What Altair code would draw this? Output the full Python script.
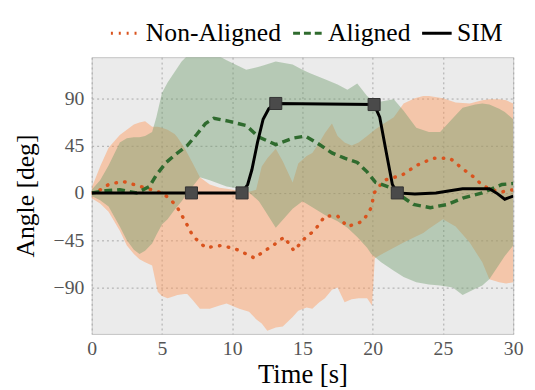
import altair as alt
import pandas as pd

# ---------------- data ----------------
series_names = ["Non-Aligned", "Aligned", "SIM"]
x_ticks = [0, 5, 10, 15, 20, 25, 30]
y_ticks = [90, 45, 0, -45, -90]

# Non-Aligned spread band
na_band_t = [0, 0.6, 1.2, 2.0, 2.5, 3.0, 3.4, 3.8, 4.3, 4.7, 5.0, 5.4, 5.9, 6.1, 6.6, 6.8, 7.2, 7.7,
             8.4, 9.1, 9.6, 10.5, 11.2, 11.7, 12.1, 12.5, 13.1, 13.6, 14.3, 14.7, 15.3, 15.7, 16.2,
             16.6, 17.1, 17.5, 18.0, 18.5, 19.0, 19.6, 19.95, 20.15, 20.8, 21.5, 22.2, 23.0, 23.6,
             24.0, 25.0, 25.9, 26.9, 27.8, 28.3, 29.0, 29.5, 30]
na_band_hi = [5, 25, 43, 55, 60, 65, 67, 68, 63, 63, 62, 60, 56, 53, 43, 38, 28, 15,
              8, 5, 4, 2, 1, 3, 25, 33, 42, 30, 10, 28, 35, 38, 48,
              57, 66, 54, 48, 45, 48, 54, 58, 60, 66, 72, 85, 90, 92,
              92, 90, 86, 85, 88, 89, 89, 88, 85]
na_band_lo = [-5, -10, -18, -36, -50, -58, -63, -66, -69, -94, -98, -100, -98, -97, -96, -96, -102, -110,
              -110, -107, -105, -110, -113, -120, -124, -131, -128, -127, -118, -112, -109, -110, -104,
              -100, -92, -90, -104, -101, -100, -100, -107, -62, -57, -52, -47, -42, -38,
              -34, -25, -32, -47, -66, -82, -85, -86, -85]

# Aligned spread band
al_band_t = [0, 0.6, 1.2, 2.0, 2.5, 3.0, 3.4, 3.8, 4.3, 4.6, 5.0, 5.4, 5.9, 6.4, 7.0, 7.7, 8.4, 9.6,
             11.0, 11.9, 12.2, 13.1, 14.3, 15.0, 15.5, 16.6, 17.5, 18.2, 18.9, 19.6, 19.9, 20.6,
             21.5, 22.2, 23.1, 24.0, 24.8, 25.7, 26.4, 27.3, 27.8, 28.3, 29.0, 29.4, 30]
al_band_hi = [3, 12, 26, 48, 52, 53, 53, 54, 58, 72, 95, 105, 115, 125, 133, 135, 135, 126,
              117, 120, 121, 125, 122, 117, 114, 108, 103, 98, 104, 92, 89, 87,
              89, 78, 62, 58, 58, 71, 81, 84, 85, 84, 80, 77, 70]
al_band_lo = [-3, -7, -13, -32, -45, -54, -58, -55, -48, -40, -30, -25, -16, -8, 3, 15, 12, 6,
              3, -8, -14, -33, -15, -8, -12, -21, -27, -33, -42, -52, -58, -66,
              -74, -80, -85, -87, -88, -90, -97, -91, -88, -82, -68, -60, -50]

# Mean curves
na_mean_t = [0, 0.5, 1.2, 2.2, 3.0, 4.0, 5.0, 5.6, 6.1, 6.7, 7.2, 8.1, 9.2, 10.2, 11.0, 11.6, 12.1,
             13.0, 13.7, 14.4, 15.1, 15.9, 16.6, 17.5, 18.2, 19.3, 19.9, 20.1, 20.8, 22.1, 23.1,
             24.3, 25.5, 26.4, 27.3, 27.8, 28.5, 29.2, 30]
na_mean_v = [0, 2, 8, 11, 8, 4, 0, -6, -14, -28, -41, -52, -50, -53, -58, -62, -57,
             -49, -42, -55, -44, -35, -22, -22, -32, -27, -14, 0, 12, 17, 26,
             33, 33, 23, 14, 7, 3, 1, 3]

al_mean_t = [0, 1.0, 2.0, 3.2, 4.1, 4.6, 5.3, 6.0, 6.8, 7.5, 8.1, 8.7, 9.8, 11.0, 11.9, 13.1,
             14.3, 15.2, 16.1, 17.1, 18.0, 18.9, 19.6, 20.2, 21.3, 21.7, 22.9, 24.1, 25.3, 26.4,
             27.8, 29.2, 30]
al_mean_v = [0, 2, 3, 0, 6, 17, 29, 37, 45, 56, 66, 71, 68, 64, 53, 46,
             52, 54, 47, 38, 33, 29, 20, 10, 5, 0, -11, -14, -11, -5,
             0, 8, 9]

sim_t = [0, 7.1, 10.7, 11.1, 11.4, 11.8, 12.2, 12.6, 13.1, 20.1, 20.5, 21.0, 21.4, 21.75,
         23.0, 24.5, 25.5, 26.4, 28.3, 28.8, 29.4, 30]
sim_v = [0, 0, 0, 8, 22, 48, 70, 80, 85, 84, 72, 36, 8, 0,
         -1, 0, 2, 4, 4, 0, -6, -3]

sim_mark_t = [7.1, 10.7, 13.1, 20.1, 21.75]
sim_mark_v = [0, 0, 85, 84, 0]

# ---------------- styling ----------------
FONT = "Liberation Serif"
orange_band = "#FF9A5A"
green_band = "#6E9C6C"
orange_line = "#D9531E"
green_line = "#2F6B2E"

x_scale = alt.Scale(domain=[0, 30], nice=False, zero=False)
y_scale = alt.Scale(domain=[-134, 129], nice=False, zero=False)

x_axis = alt.Axis(values=x_ticks, title="Time [s]", grid=True, ticks=False, domain=False,
                  labelFont=FONT, labelFontSize=20, labelColor="#555555", labelPadding=5,
                  labelFlush=False,
                  titleFont=FONT, titleFontSize=27, titleFontWeight="normal", titleColor="black",
                  titlePadding=3, gridColor="#a8a8a8", gridDash=[2, 3], gridWidth=1)
y_axis = alt.Axis(values=y_ticks, title="Angle [deg]", grid=True, ticks=False, domain=False,
                  labelFont=FONT, labelFontSize=20, labelColor="#555555", labelPadding=8,
                  labelFlush=False,
                  titleFont=FONT, titleFontSize=26, titleFontWeight="normal", titleColor="black",
                  titlePadding=15, gridColor="#a8a8a8", gridDash=[2, 3], gridWidth=1)

na_band_df = pd.DataFrame({"t": na_band_t, "lo": na_band_lo, "hi": na_band_hi})
al_band_df = pd.DataFrame({"t": al_band_t, "lo": al_band_lo, "hi": al_band_hi})
na_df = pd.DataFrame({"t": na_mean_t, "v": na_mean_v})
al_df = pd.DataFrame({"t": al_mean_t, "v": al_mean_v})
sim_df = pd.DataFrame({"t": sim_t, "v": sim_v})
mark_df = pd.DataFrame({"t": sim_mark_t, "v": sim_mark_v})

na_band = alt.Chart(na_band_df).mark_area(color=orange_band, opacity=0.45, clip=True).encode(
    x=alt.X("t:Q", scale=x_scale, axis=x_axis),
    y=alt.Y("lo:Q", scale=y_scale, axis=y_axis),
    y2="hi:Q",
)
al_band = alt.Chart(al_band_df).mark_area(color=green_band, opacity=0.42, clip=True).encode(
    x=alt.X("t:Q", scale=x_scale, axis=x_axis),
    y=alt.Y("lo:Q", scale=y_scale, axis=y_axis),
    y2="hi:Q",
)
na_line = alt.Chart(na_df).mark_line(color=orange_line, strokeWidth=3.5, strokeDash=[0.5, 8.5],
                                     strokeCap="round", clip=True).encode(
    x=alt.X("t:Q", scale=x_scale, axis=x_axis), y=alt.Y("v:Q", scale=y_scale, axis=y_axis))
al_line = alt.Chart(al_df).mark_line(color=green_line, strokeWidth=3.5, strokeDash=[8, 5],
                                     clip=True).encode(
    x=alt.X("t:Q", scale=x_scale, axis=x_axis), y=alt.Y("v:Q", scale=y_scale, axis=y_axis))
sim_line = alt.Chart(sim_df).mark_line(color="black", strokeWidth=3, clip=True).encode(
    x=alt.X("t:Q", scale=x_scale, axis=x_axis), y=alt.Y("v:Q", scale=y_scale, axis=y_axis))
sim_pts = alt.Chart(mark_df).mark_point(shape="square", filled=True, size=150, color="#4a4a4a",
                                        stroke="#333333", strokeWidth=1, opacity=1).encode(
    x=alt.X("t:Q", scale=x_scale, axis=x_axis), y=alt.Y("v:Q", scale=y_scale, axis=y_axis))

# legend-only layer (no rows drawn, domain set explicitly)
leg_df = pd.DataFrame({"t": na_mean_t[:3], "v": na_mean_v[:3], "s": series_names})
leg = alt.Legend(title=None, orient="none", direction="horizontal",
                 legendX=18, legendY=-41, symbolType="stroke",
                 symbolSize=900, symbolStrokeWidth=3, labelFont=FONT,
                 labelFontSize=26, labelColor="black", labelOffset=4,
                 columnPadding=5, padding=0)
legend_layer = alt.Chart(leg_df).transform_filter("false").mark_line(strokeWidth=3).encode(
    x=alt.X("t:Q", scale=x_scale, axis=x_axis), y=alt.Y("v:Q", scale=y_scale, axis=y_axis),
    color=alt.Color("s:N", scale=alt.Scale(domain=series_names,
                                           range=[orange_line, green_line, "black"]),
                    legend=leg),
    strokeDash=alt.StrokeDash("s:N", scale=alt.Scale(domain=series_names,
                                                     range=[[2, 6], [7, 4], [1, 0]]),
                              legend=leg),
)

chart = alt.layer(na_band, al_band, na_line, al_line, sim_line, sim_pts, legend_layer).properties(
    width=428, height=281,
    autosize=alt.AutoSizeParams(type="none"),
    padding={"left": 85, "top": 47, "right": 14, "bottom": 54},
).configure_view(fill="#EBEBEB", stroke="#c4c4c4", strokeWidth=1)

chart.save("out.html", embed_options={"renderer": "svg", "actions": False})
